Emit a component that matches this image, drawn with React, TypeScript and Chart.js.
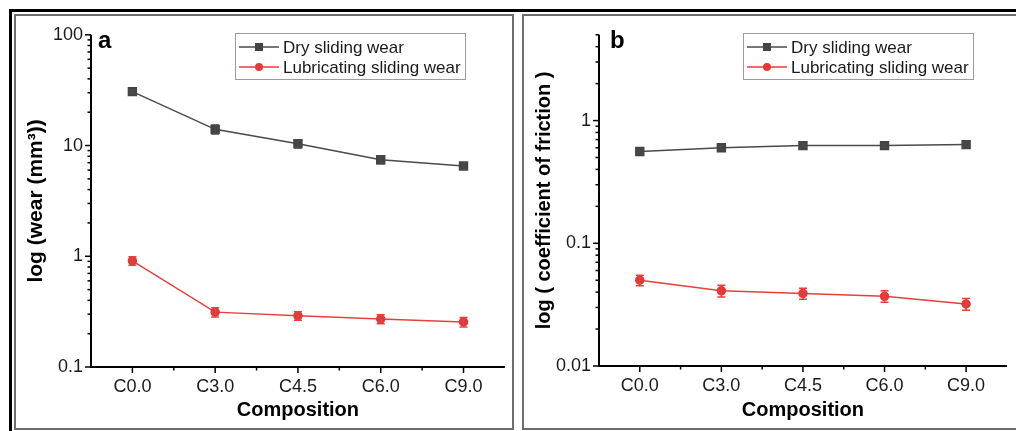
import React, { useEffect, useRef } from 'react';
import { Chart, registerables } from 'chart.js';

Chart.register(...registerables);

const categories = ['C0.0', 'C3.0', 'C4.5', 'C6.0', 'C9.0'];
const seriesNames = ['Dry sliding wear', 'Lubricating sliding wear'];

const wearDry = [30.7, 14.0, 10.4, 7.45, 6.54];
const wearDryErr = [1.2, 1.3, 0.9, 0.6, 0.4];
const wearLub = [0.91, 0.313, 0.29, 0.271, 0.255];
const wearLubErr = [0.08, 0.03, 0.025, 0.025, 0.025];

const cofDry = [0.56, 0.6, 0.625, 0.625, 0.637];
const cofDryErr = [0.02, 0.02, 0.02, 0.02, 0.02];
const cofLub = [0.05, 0.041, 0.039, 0.037, 0.032];
const cofLubErr = [0.005, 0.0045, 0.004, 0.004, 0.0035];

const wearRange = [0.1, 100];
const cofRange = [0.01, 5];

const FONT = "'Liberation Sans', Arial, Helvetica, sans-serif";
const DRY_COLOR = '#4a4a4a';
const LUB_COLOR = '#e5403b';

const errorBarPlugin = {
  id: 'errorBars',
  afterDatasetsDraw(chart: any) {
    const ctx = chart.ctx;
    const ys = chart.scales.y;
    chart.data.datasets.forEach((ds: any, i: number) => {
      const errs = ds.errors;
      if (!errs) return;
      const meta = chart.getDatasetMeta(i);
      ctx.save();
      ctx.strokeStyle = ds.borderColor;
      ctx.lineWidth = 1.5;
      meta.data.forEach((pt: any, j: number) => {
        const v = ds.data[j];
        const e = errs[j];
        const y1 = ys.getPixelForValue(v + e);
        const y2 = ys.getPixelForValue(v - e);
        ctx.beginPath();
        ctx.moveTo(pt.x, y1);
        ctx.lineTo(pt.x, y2);
        ctx.moveTo(pt.x - 4, y1);
        ctx.lineTo(pt.x + 4, y1);
        ctx.moveTo(pt.x - 4, y2);
        ctx.lineTo(pt.x + 4, y2);
        ctx.stroke();
      });
      ctx.restore();
    });
  },
};

const axesPlugin = {
  id: 'originAxes',
  afterDraw(chart: any) {
    const ctx = chart.ctx;
    const { left, right, top, bottom } = chart.chartArea;
    const ys = chart.scales.y;
    const xs = chart.scales.x;
    ctx.save();
    ctx.strokeStyle = '#000';
    ctx.lineWidth = 2;
    ctx.beginPath();
    ctx.moveTo(left, top);
    ctx.lineTo(left, bottom + 1);
    ctx.moveTo(left - 1, bottom);
    ctx.lineTo(right, bottom);
    ctx.stroke();
    ctx.lineWidth = 1.5;
    const minE = Math.floor(Math.log10(ys.min));
    const maxE = Math.ceil(Math.log10(ys.max));
    for (let e = minE; e <= maxE; e++) {
      for (let m = 1; m <= 9; m++) {
        const v = m * Math.pow(10, e);
        if (v < ys.min * 0.9999 || v > ys.max * 1.0001) continue;
        const py = ys.getPixelForValue(v);
        const len = m === 1 ? 6 : 3.5;
        ctx.beginPath();
        ctx.moveTo(left - len, py);
        ctx.lineTo(left, py);
        ctx.stroke();
      }
    }
    const n = chart.data.labels.length;
    const step = xs.getPixelForValue(1) - xs.getPixelForValue(0);
    for (let i = 0; i < n; i++) {
      const px = xs.getPixelForValue(i);
      ctx.beginPath();
      ctx.moveTo(px, bottom);
      ctx.lineTo(px, bottom + 6);
      ctx.stroke();
      const mx = px + step / 2;
      if (mx < right - 2) {
        ctx.beginPath();
        ctx.moveTo(mx, bottom);
        ctx.lineTo(mx, bottom + 3.5);
        ctx.stroke();
      }
    }
    ctx.restore();
  },
};

const legendPlugin = {
  id: 'boxLegend',
  afterDraw(chart: any, _args: any, opts: any) {
    const ctx = chart.ctx;
    const { x, y, w, h, rows, lineX0, lineX1, textX } = opts;
    ctx.save();
    ctx.strokeStyle = '#9c9c9c';
    ctx.lineWidth = 1;
    ctx.strokeRect(x + 0.5, y + 0.5, w, h);
    chart.data.datasets.forEach((ds: any, i: number) => {
      const ry = rows[i];
      ctx.strokeStyle = ds.borderColor;
      ctx.lineWidth = 1.5;
      ctx.beginPath();
      ctx.moveTo(lineX0, ry);
      ctx.lineTo(lineX1, ry);
      ctx.stroke();
      const cx = (lineX0 + lineX1) / 2;
      ctx.fillStyle = ds.pointBackgroundColor;
      if (ds.pointStyle === 'rect') {
        ctx.fillRect(cx - 4, ry - 4, 8, 8);
      } else {
        ctx.beginPath();
        ctx.arc(cx, ry, 4, 0, Math.PI * 2);
        ctx.fill();
      }
      ctx.fillStyle = '#1a1a1a';
      ctx.font = `17px ${FONT}`;
      ctx.textBaseline = 'middle';
      ctx.textAlign = 'left';
      ctx.fillText(ds.label, textX, ry + 1);
    });
    ctx.restore();
  },
};

const panelLabelPlugin = {
  id: 'panelLabel',
  afterDraw(chart: any, _args: any, opts: any) {
    const ctx = chart.ctx;
    ctx.save();
    ctx.fillStyle = '#000';
    ctx.font = `bold 24px ${FONT}`;
    ctx.textBaseline = 'alphabetic';
    ctx.textAlign = 'left';
    ctx.fillText(opts.text, opts.x, opts.y);
    ctx.restore();
  },
};

function fmtLog(v: number) {
  const l = Math.log10(v);
  if (Math.abs(l - Math.round(l)) > 1e-6) return '';
  return String(parseFloat(Number(v).toPrecision(6)));
}

function makeConfig(p: {
  dry: number[]; dryErr: number[]; lub: number[]; lubErr: number[];
  range: number[]; yTitle: string; yTitleSize: number; label: string; labelX: number; rightPad: number; xHeight: number;
}) {
  return {
    type: 'line' as const,
    data: {
      labels: categories,
      datasets: [
        {
          label: seriesNames[0],
          data: p.dry,
          errors: p.dryErr,
          borderColor: DRY_COLOR,
          backgroundColor: DRY_COLOR,
          pointBackgroundColor: '#444',
          pointBorderColor: '#444',
          pointStyle: 'rect',
          pointRadius: 5.6,
          borderWidth: 1.5,
          tension: 0,
        },
        {
          label: seriesNames[1],
          data: p.lub,
          errors: p.lubErr,
          borderColor: LUB_COLOR,
          backgroundColor: LUB_COLOR,
          pointBackgroundColor: '#e03a3a',
          pointBorderColor: '#e03a3a',
          pointStyle: 'circle',
          pointRadius: 4,
          borderWidth: 1.5,
          tension: 0,
        },
      ],
    },
    options: {
      animation: false,
      responsive: false,
      events: [],
      layout: { padding: { left: 0, top: 17, right: p.rightPad, bottom: 0 } },
      plugins: {
        legend: { display: false },
        tooltip: { enabled: false },
        boxLegend: { x: 219, y: 17, w: 230, h: 46, rows: [31, 51], lineX0: 223, lineX1: 263, textX: 267 },
        panelLabel: { text: p.label, x: p.labelX, y: 32 },
      },
      scales: {
        x: {
          type: 'category',
          offset: true,
          grid: { display: false, drawTicks: false },
          border: { display: false },
          ticks: { color: '#1a1a1a', font: { family: FONT, size: 18 }, padding: 9, maxRotation: 0, autoSkip: false },
          title: { display: true, text: 'Composition', color: '#000', font: { family: FONT, size: 20, weight: 'bold' }, padding: { top: 0, bottom: 6 } },
          afterFit(scale: any) { scale.height = p.xHeight; },
        },
        y: {
          type: 'logarithmic',
          min: p.range[0],
          max: p.range[1],
          grid: { display: false, drawTicks: false },
          border: { display: false },
          ticks: { color: '#1a1a1a', font: { family: FONT, size: 18 }, padding: 8, autoSkip: false, callback: (v: any) => fmtLog(Number(v)) },
          title: { display: true, text: p.yTitle, color: '#000', font: { family: FONT, size: p.yTitleSize, weight: 'bold' }, padding: { top: 8, bottom: 0 } },
          afterFit(scale: any) { scale.width = 75; },
        },
      },
    },
    plugins: [errorBarPlugin, axesPlugin, legendPlugin, panelLabelPlugin],
  };
}

function Panel(props: { cfg: any; width: number; height: number; style: any }) {
  const ref = useRef<HTMLCanvasElement>(null);
  useEffect(() => {
    if (!ref.current) return;
    const chart = new Chart(ref.current, props.cfg);
    return () => chart.destroy();
  }, []);
  return (
    <div style={{ position: 'absolute', width: props.width, height: props.height, ...props.style }}>
      <canvas ref={ref} width={props.width} height={props.height} style={{ width: props.width, height: props.height, display: 'block' }} />
    </div>
  );
}

export default function App() {
  const cfgA = makeConfig({
    dry: wearDry, dryErr: wearDryErr, lub: wearLub, lubErr: wearLubErr,
    range: wearRange, yTitle: 'log (wear (mm³))', yTitleSize: 21, label: 'a', labelX: 82, rightPad: 4, xHeight: 61,
  });
  const cfgB = makeConfig({
    dry: cofDry, dryErr: cofDryErr, lub: cofLub, lubErr: cofLubErr,
    range: cofRange, yTitle: 'log ( coefficient of friction )', yTitleSize: 20, label: 'b', labelX: 86, rightPad: 4, xHeight: 62,
  });
  return (
    <div style={{ position: 'absolute', left: 0, top: 0, width: 1016, height: 431, background: '#fff', overflow: 'hidden' }}>
      <div style={{ position: 'absolute', left: 9, top: 9, width: 1007, height: 3, background: '#000' }} />
      <div style={{ position: 'absolute', left: 9, top: 9, width: 3, height: 422, background: '#000' }} />
      <div style={{ position: 'absolute', left: 14, top: 14, width: 496, height: 412, border: '2px solid #6e6e6e' }} />
      <div style={{ position: 'absolute', left: 522, top: 14, width: 500, height: 412, border: '2px solid #6e6e6e' }} />
      <Panel cfg={cfgA} width={496} height={412} style={{ left: 16, top: 16 }} />
      <Panel cfg={cfgB} width={490} height={412} style={{ left: 524, top: 16 }} />
    </div>
  );
}
